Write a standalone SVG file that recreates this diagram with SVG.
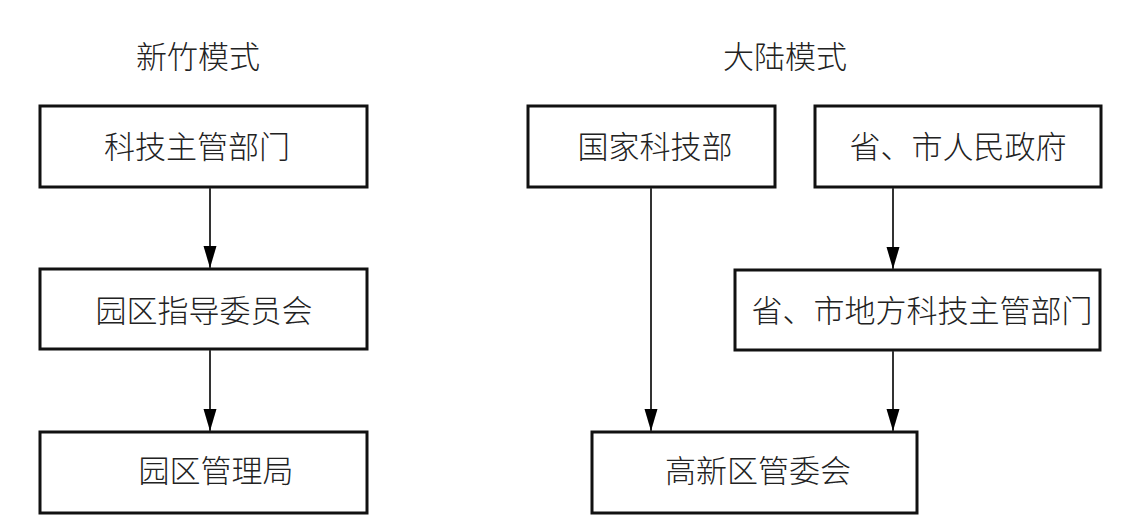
<svg xmlns="http://www.w3.org/2000/svg" width="1122" height="528" viewBox="0 0 1122 528">
<style>
  .box { fill: #fff; stroke: #111; stroke-width: 3; }
  .lbl { font-family: "Noto Sans CJK SC", "DejaVu Sans", sans-serif; font-size: 31px; font-weight: 300; fill: #222; text-anchor: middle; }
  .conn line { stroke: #333; stroke-width: 2; marker-end: url(#arr); }
</style>
<defs>
  <marker id="arr" markerUnits="userSpaceOnUse" markerWidth="24" markerHeight="14" refX="22" refY="6.5" orient="auto">
    <path d="M0,0 L22,6.5 L0,13 Z" fill="#000"/>
  </marker>
</defs>
<rect width="1122" height="528" fill="#fff"/>
<g id="title-left"><text class="lbl" x="198" y="68">新竹模式</text></g>
<g id="title-right"><text class="lbl" x="785" y="68">大陆模式</text></g>

<g id="n1"><rect class="box" x="40" y="106" width="327" height="81"/><text class="lbl" x="197" y="158">科技主管部门</text></g>
<g id="n2"><rect class="box" x="40" y="269" width="327" height="80"/><text class="lbl" x="204" y="322">园区指导委员会</text></g>
<g id="n3"><rect class="box" x="40" y="432" width="327" height="81"/><text class="lbl" x="216" y="482">园区管理局</text></g>

<g id="n4"><rect class="box" x="528" y="106" width="247" height="81"/><text class="lbl" x="655" y="158">国家科技部</text></g>
<g id="n5"><rect class="box" x="815" y="106" width="286" height="81"/><text class="lbl" x="958" y="158">省、市人民政府</text></g>
<g id="n6"><rect class="box" x="735" y="270" width="365" height="80"/><text class="lbl" x="922" y="322">省、市地方科技主管部门</text></g>
<g id="n7"><rect class="box" x="592" y="432" width="325" height="81"/><text class="lbl" x="758" y="482">高新区管委会</text></g>

<g id="connectors" class="conn">
  <line x1="210" y1="188" x2="210" y2="268"/>
  <line x1="210" y1="350" x2="210" y2="431"/>
  <line x1="651" y1="188" x2="651" y2="431"/>
  <line x1="893" y1="188" x2="893" y2="269"/>
  <line x1="893" y1="351" x2="893" y2="431"/>
</g>
</svg>
